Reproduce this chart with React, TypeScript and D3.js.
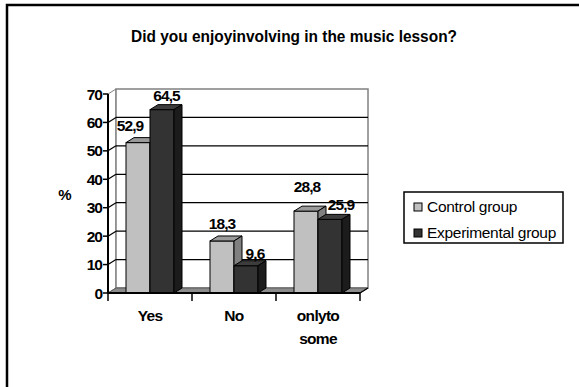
import React from "react";
import * as d3 from "d3";

const title = "Did you enjoyinvolving in the music lesson?";
const categories = ["Yes", "No", "onlyto some"];
const seriesNames = ["Control group", "Experimental group"];
const controlValues = [52.9, 18.3, 28.8];
const experimentalValues = [64.5, 9.6, 25.9];
const valueLabels = [["52,9", "18,3", "28,8"], ["64,5", "9,6", "25,9"]];
const yTicks = [0, 10, 20, 30, 40, 50, 60, 70];
const yLabel = "%";

// layout-only label nudges (x, y) relative to bar front center / bar top
const labelNudge = [
  [[-8, -12], [0, -12], [1, -19]],
  [[4.5, -9], [9, -7], [11, -9]],
];

const W = 579, H = 387;
const DX = 8, DY = -5;
const font = "'Liberation Sans', Arial, sans-serif";

const colors = [
  { front: "#c0c0c0", top: "#9a9a9a", side: "#808080" },
  { front: "#333333", top: "#3c3c3c", side: "#1c1c1c" },
];

export default function App() {
  const y = d3.scaleLinear().domain([0, 70]).range([293, 94]);
  const x0 = d3.scaleBand().domain(categories).range([108, 360]).padding(0);
  const x1 = d3.scaleBand().domain(seriesNames).range([18, 66]).padding(0);
  const series = [controlValues, experimentalValues];
  const left = 108, right = 360, y0 = y(0), yTop = y(70);
  const bw = x1.bandwidth();

  return (
    <svg width={W} height={H} style={{ position: "absolute", left: 0, top: 0 }}>
      <rect x={0} y={0} width={W} height={H} fill="#fff" />
      <rect x={7} y={5} width={W + 20} height={H + 20} fill="none" stroke="#000" strokeWidth={2.5} />
      <text x={294} y={41.5} textAnchor="middle" fontFamily={font} fontWeight="bold" fontSize={16.5}
        textLength={326} lengthAdjust="spacingAndGlyphs">{title}</text>

      {/* walls */}
      <polygon points={`${left},${yTop} ${left + DX},${yTop + DY} ${left + DX},${y0 + DY} ${left},${y0}`} fill="#fff" stroke="#808080" />
      <rect x={left + DX} y={yTop + DY} width={right - left} height={y0 - yTop} fill="#fff" stroke="#808080" strokeWidth={1.5} />
      {yTicks.filter(t => t > 0 && t < 70).map(t => (
        <g key={t}>
          <line x1={left + DX} x2={right + DX} y1={y(t) + DY} y2={y(t) + DY} stroke="#000" strokeWidth={1.3} />
          <line x1={left} x2={left + DX} y1={y(t)} y2={y(t) + DY} stroke="#000" strokeWidth={1.2} />
        </g>
      ))}
      {/* floor */}
      <polygon points={`${left},${y0} ${right},${y0} ${right + DX},${y0 + DY} ${left + DX},${y0 + DY}`} fill="#8c8c8c" stroke="#5a5a5a" strokeWidth={1} />

      {/* bars */}
      {categories.map((c, ci) => (
        <g key={c}>
          {series.map((vals, si) => {
            const bx = (x0(c) as number) + (x1(seriesNames[si]) as number);
            const yv = y(vals[ci]);
            const col = colors[si];
            return (
              <g key={si}>
                <rect x={bx} y={yv} width={bw} height={y0 - yv} fill={col.front} stroke="#000" strokeWidth={1} />
                <polygon points={`${bx},${yv} ${bx + DX},${yv + DY} ${bx + bw + DX},${yv + DY} ${bx + bw},${yv}`} fill={col.top} stroke="#000" strokeWidth={1} />
                <polygon points={`${bx + bw},${yv} ${bx + bw + DX},${yv + DY} ${bx + bw + DX},${y0 + DY} ${bx + bw},${y0}`} fill={col.side} stroke="#000" strokeWidth={1} />
              </g>
            );
          })}
        </g>
      ))}

      {/* value labels */}
      {categories.map((c, ci) => series.map((vals, si) => {
        const bx = (x0(c) as number) + (x1(seriesNames[si]) as number) + bw / 2;
        const [nx, ny] = labelNudge[si][ci];
        return (
          <text key={`${ci}-${si}`} x={bx + nx} y={y(vals[ci]) + ny} textAnchor="middle" fontFamily={font}
            fontWeight="bold" fontSize={15.5} letterSpacing={-0.9}>{valueLabels[si][ci]}</text>
        );
      }))}

      {/* axes */}
      <line x1={left} x2={left} y1={yTop} y2={y0} stroke="#000" strokeWidth={2} />
      <line x1={left} x2={right} y1={y0} y2={y0} stroke="#000" strokeWidth={2} />
      <line x1={right} x2={right + DX} y1={y0} y2={y0 + DY} stroke="#000" strokeWidth={1.2} />
      {yTicks.map(t => (
        <g key={t}>
          <line x1={left - 5} x2={left} y1={y(t)} y2={y(t)} stroke="#000" strokeWidth={1.5} />
          <text x={102} y={y(t) + 5.5} textAnchor="end" fontFamily={font} fontWeight="bold" fontSize={15.5} letterSpacing={-1}>{t}</text>
        </g>
      ))}
      {[...categories.map(c => x0(c) as number), right].map((xv, i) => (
        <line key={i} x1={xv} x2={xv} y1={y0} y2={y0 + 8} stroke="#000" strokeWidth={1.5} />
      ))}
      {categories.map(c => {
        const cx = (x0(c) as number) + x0.bandwidth() / 2;
        const words = c === "onlyto some" ? ["onlyto", "some"] : [c];
        return words.map((w, i) => (
          <text key={c + i} x={cx} y={320.5 + i * 23} textAnchor="middle" fontFamily={font} fontWeight="bold" fontSize={15.5} letterSpacing={-0.7}>{w}</text>
        ));
      })}
      <text x={65} y={200} textAnchor="middle" fontFamily={font} fontWeight="bold" fontSize={15}>{yLabel}</text>

      {/* legend */}
      <rect x={404} y={192} width={159} height={51} fill="#fff" stroke="#000" strokeWidth={1.5} />
      {seriesNames.map((s, i) => (
        <g key={s}>
          <rect x={414} y={203 + i * 26} width={8} height={8} fill={colors[i].front} stroke="#000" strokeWidth={1} />
          <text x={427} y={212 + i * 26} fontFamily={font} fontSize={15.5} letterSpacing={-0.3}>{s}</text>
        </g>
      ))}
    </svg>
  );
}
